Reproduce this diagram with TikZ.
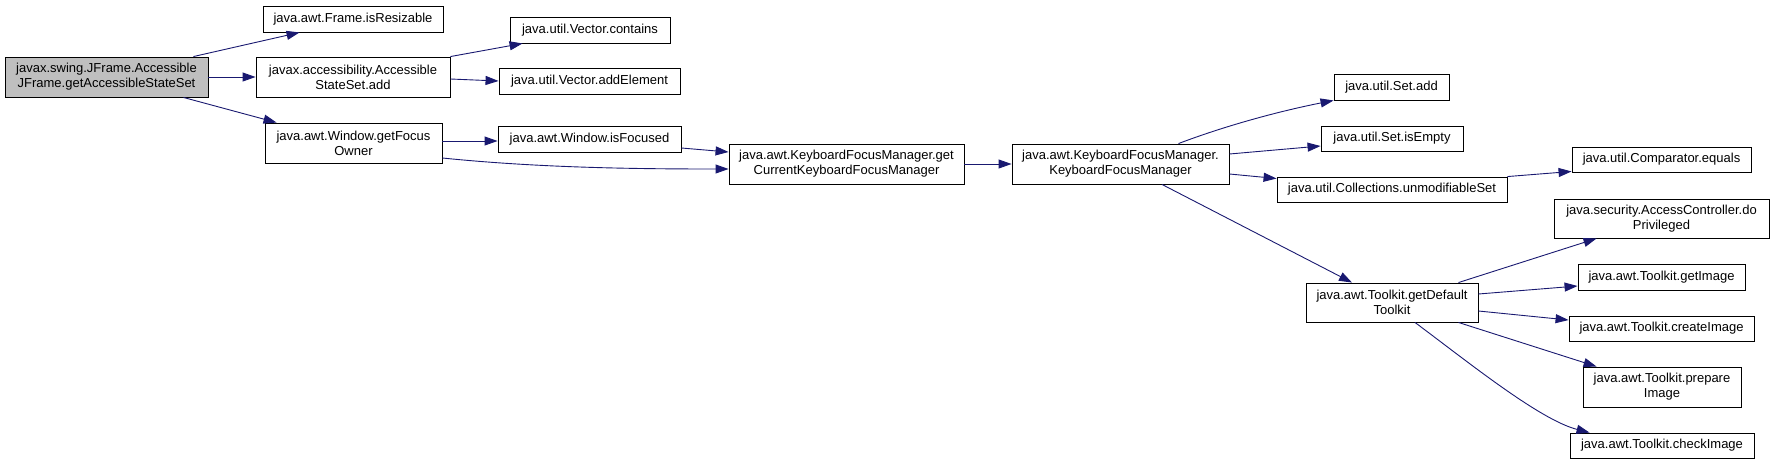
\documentclass[tikz,border=0pt]{standalone}
\usepackage{fontspec}
\setmainfont{Liberation Sans}
\usetikzlibrary{arrows.meta,calc}
\definecolor{edgeblue}{HTML}{191970}
\definecolor{rootgray}{HTML}{BFBFBF}
\begin{document}
\begin{tikzpicture}[x=1pt,y=-1pt,
  box/.style={draw=black, line width=0.9pt, fill=white, inner sep=0pt, align=center,
    font=\fontsize{13}{15}\selectfont},
  call/.style={draw=edgeblue, line width=0.9pt, -{Triangle[length=13pt,width=9pt]}}]
\useasboundingbox (0,0) rectangle (1775,464);
% nodes
\node[box, fill=rootgray, minimum width=203pt, minimum height=40pt] (root) at (106.5,77) {javax.swing.JFrame.Accessible\\JFrame.getAccessibleStateSet};
\node[box, minimum width=180pt, minimum height=26pt] (resz) at (353,19) {java.awt.Frame.isResizable};
\node[box, minimum width=194pt, minimum height=40pt] (ssadd) at (353,77) {javax.accessibility.Accessible\\StateSet.add};
\node[box, minimum width=177pt, minimum height=40pt] (gfo) at (353.5,143) {java.awt.Window.getFocus\\Owner};
\node[box, minimum width=160pt, minimum height=26pt] (vcont) at (590,30) {java.util.Vector.contains};
\node[box, minimum width=181pt, minimum height=26pt] (vadd) at (589.5,81) {java.util.Vector.addElement};
\node[box, minimum width=183pt, minimum height=26pt] (isf) at (589.5,139) {java.awt.Window.isFocused};
\node[box, minimum width=235pt, minimum height=40pt] (gckfm) at (846.5,164) {java.awt.KeyboardFocusManager.get\\CurrentKeyboardFocusManager};
\node[box, minimum width=217pt, minimum height=40pt] (kfm) at (1120.5,164) {java.awt.KeyboardFocusManager.\\KeyboardFocusManager};
\node[box, minimum width=115pt, minimum height=26pt] (setadd) at (1391.5,87) {java.util.Set.add};
\node[box, minimum width=142pt, minimum height=25pt] (setempty) at (1392,138.5) {java.util.Set.isEmpty};
\node[box, minimum width=230pt, minimum height=25pt] (unmod) at (1392,189.5) {java.util.Collections.unmodifiableSet};
\node[box, minimum width=179pt, minimum height=25pt] (cmpeq) at (1661.5,159.5) {java.util.Comparator.equals};
\node[box, minimum width=172pt, minimum height=39pt] (gdt) at (1392,302.5) {java.awt.Toolkit.getDefault\\Toolkit};
\node[box, minimum width=215pt, minimum height=39pt] (dopriv) at (1661.5,218.5) {java.security.AccessController.do\\Privileged};
\node[box, minimum width=167pt, minimum height=26pt] (getimg) at (1661.5,277) {java.awt.Toolkit.getImage};
\node[box, minimum width=185pt, minimum height=25pt] (crimg) at (1661.5,328.5) {java.awt.Toolkit.createImage};
\node[box, minimum width=158pt, minimum height=40pt] (prepimg) at (1662,387) {java.awt.Toolkit.prepare\\Image};
\node[box, minimum width=184pt, minimum height=25pt] (chkimg) at (1662,445.5) {java.awt.Toolkit.checkImage};
% connectors
\draw[call] ($(root.north east)+(-15,0)$) -- ($(resz.south west)+(37,0)$);
\draw[call] (root.east) -- (ssadd.west);
\draw[call] ($(root.south east)+(-25,0)$) -- ($(gfo.north west)+(12,0)$);
\draw[call] (ssadd.north east) -- ($(vcont.south west)+(13,0)$);
\draw[call] ($(ssadd.east)+(0,2)$) -- (vadd.west);
\draw[call] ($(gfo.east)+(0,-2)$) -- ($(isf.west)+(0,2)$);
\draw[call] ($(gfo.east)+(0,15)$) .. controls (540,168) and (640,169) .. ($(gckfm.west)+(0,5)$);
\draw[call] ($(isf.east)+(0,9)$) -- ($(gckfm.west)+(0,-12)$);
\draw[call] (gckfm.east) -- (kfm.west);
\draw[call] ($(kfm.north)+(58,0)$) .. controls (1230,124) and (1285,110) .. ($(setadd.south west)+(0,0)$);
\draw[call] ($(kfm.east)+(0,-10)$) -- ($(setempty.west)+(0,7.5)$);
\draw[call] ($(kfm.east)+(0,10)$) -- ($(unmod.west)+(0,-11)$);
\draw[call] ($(kfm.south)+(41.5,0)$) -- ($(gdt.north)+(-40,0)$);
\draw[call] (unmod.north east) -- ($(cmpeq.south west)+(0,-1)$);
\draw[call] ($(gdt.north east)+(-20,0)$) -- ($(dopriv.south west)+(43,0)$);
\draw[call] ($(gdt.east)+(0,-8.5)$) -- ($(getimg.west)+(0,9)$);
\draw[call] ($(gdt.east)+(0,8.5)$) -- ($(crimg.west)+(0,-8.5)$);
\draw[call] ($(gdt.south east)+(-20,0)$) -- ($(prepimg.north west)+(14,0)$);
\draw[call] ($(gdt.south)+(23,0)$) .. controls (1468,362) and (1540,420) .. ($(chkimg.north west)+(20,0)$);
\end{tikzpicture}
\end{document}
